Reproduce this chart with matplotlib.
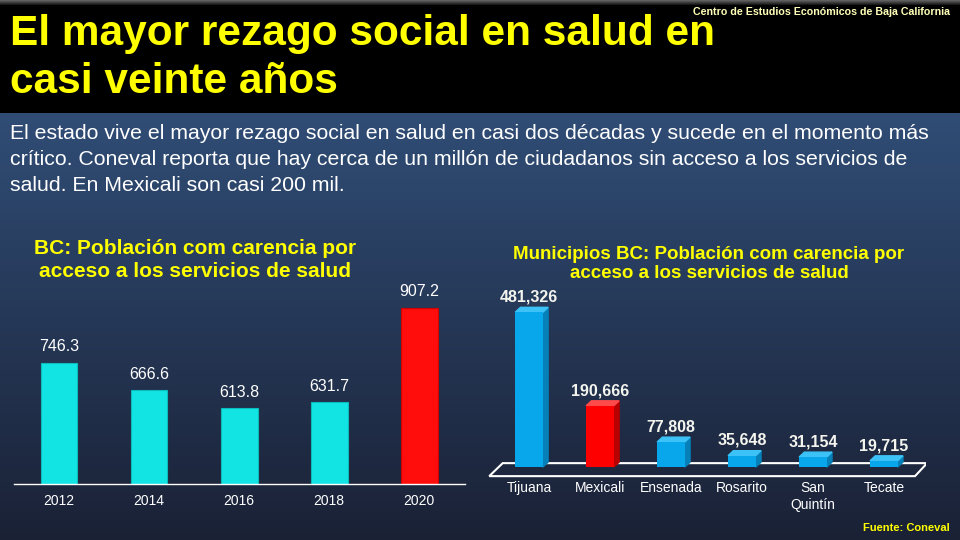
import numpy as np
import matplotlib
matplotlib.use("Agg")
import matplotlib.pyplot as plt
from matplotlib.patches import Polygon

plt.rcParams['font.family'] = ['Liberation Sans', 'DejaVu Sans']

# datos
anios = ["2012", "2014", "2016", "2018", "2020"]
carencia_bc = [746.3, 666.6, 613.8, 631.7, 907.2]   # miles de personas

municipios = ["Tijuana", "Mexicali", "Ensenada", "Rosarito", "San\nQuintín", "Tecate"]
carencia_mun = [481326, 190666, 77808, 35648, 31154, 19715]

titulo = ["El mayor rezago social en salud en", "casi veinte años"]
texto = ["El estado vive el mayor rezago social en salud en casi dos décadas y sucede en el momento más",
         "crítico. Coneval reporta que hay cerca de un millón de ciudadanos sin acceso a los servicios de",
         "salud. En Mexicali son casi 200 mil."]

AMARILLO = "#ffff00"

fig = plt.figure(figsize=(9.6, 5.4), dpi=100)

# fondo: barra negra arriba y degradado azul abajo
bg = fig.add_axes([0, 0, 1, 1])
filas = np.zeros((540, 1, 3))
c_top = np.array([0x30, 0x4d, 0x76]) / 255
c_bot = np.array([0x1a, 0x21, 0x35]) / 255
for y in range(540):
    if y < 5:
        filas[y, 0] = (0.38 - y * 0.07,) * 3
    elif y < 113:
        filas[y, 0] = (0.0, 0.0, 0.0)
    else:
        t = (y - 113) / (540 - 113)
        filas[y, 0] = c_top * (1 - t) + c_bot * t
bg.imshow(filas, extent=[0, 960, 540, 0], aspect='auto')
bg.set_xlim(0, 960)
bg.set_ylim(540, 0)
bg.axis('off')

bg.text(10, 45, titulo[0], color=AMARILLO, fontsize=30.5, fontweight='bold', va='baseline')
bg.text(10, 93, titulo[1], color=AMARILLO, fontsize=30.5, fontweight='bold', va='baseline')
bg.text(950, 15, "Centro de Estudios Económicos de Baja California", color="#ffffb8",
        fontsize=7.7, fontweight='bold', ha='right', va='baseline')
for i, linea in enumerate(texto):
    bg.text(10, 139 + 26 * i, linea, color='white', fontsize=15.3, va='baseline')

bg.text(195, 260, "BC: Población com carencia por\nacceso a los servicios de salud",
        color=AMARILLO, fontsize=15, fontweight='bold', ha='center', va='center', linespacing=1.28)
bg.text(709, 264, "Municipios BC: Población com carencia por\nacceso a los servicios de salud",
        color=AMARILLO, fontsize=13.5, fontweight='bold', ha='center', va='center', linespacing=1.12)
bg.text(950, 531, "Fuente: Coneval", color=AMARILLO, fontsize=8, fontweight='bold',
        ha='right', va='baseline')

# -------------------------------
# grafico izquierdo
ax1 = fig.add_axes([14 / 960, 56 / 540, 451 / 960, 194 / 540])
ax1.patch.set_alpha(0)
colores1 = ["#12e4e4"] * 4 + ["#ff0c0c"]
x1 = np.arange(len(anios))
ax1.bar(x1, carencia_bc, width=0.41, color=colores1, edgecolor=["#0bbcbc"] * 4 + ["#d00000"], linewidth=0.8)
ax1.set_xlim(-0.5, 4.51)
ax1.set_ylim(392, 959)
for xi, v in zip(x1, carencia_bc):
    ax1.annotate(f"{v:.1f}", (xi, v), xytext=(0, 6), textcoords='offset points',
                 ha='center', va='bottom', color='white', fontsize=11.5)
ax1.set_xticks(x1, labels=anios)
ax1.set_yticks([])
ax1.tick_params(axis='x', length=0, colors='white', labelsize=10, pad=7)
for s in ['top', 'left', 'right']:
    ax1.spines[s].set_visible(False)
ax1.spines['bottom'].set_color('white')
ax1.spines['bottom'].set_linewidth(1)

# -------------------------------
# grafico derecho (barras con efecto 3D)
ax2 = fig.add_axes([486.4 / 960, 60 / 540, 440 / 960, 193 / 540])
ax2.patch.set_alpha(0)
ax2.set_xlim(-0.6, 5.6)
ax2.set_ylim(-40000, 560000)
n = len(municipios)
x2 = np.arange(n)
ancho = 0.39
dx = 0.075
dy = 15500

piso = Polygon([(-0.56, -28000), (n - 1 + 0.44, -28000), (n - 1 + 0.61, 12400), (-0.37, 12400)],
               closed=True, fill=False, edgecolor='white', linewidth=1.5, zorder=1)
ax2.add_patch(piso)

frente = ["#08a6ea", "#ff0000"] + ["#08a6ea"] * 4
lado = ["#0580b8", "#b80000"] + ["#0580b8"] * 4
techo = ["#3cc2f6", "#ff4a4a"] + ["#3cc2f6"] * 4
ax2.bar(x2, carencia_mun, width=ancho, color=frente, zorder=3)
for xi, v, cl, ct in zip(x2, carencia_mun, lado, techo):
    x0, x1_ = xi - ancho / 2, xi + ancho / 2
    ax2.add_patch(Polygon([(x1_, 0), (x1_ + dx, dy), (x1_ + dx, v + dy), (x1_, v)],
                          closed=True, color=cl, zorder=2))
    ax2.add_patch(Polygon([(x0, v), (x1_, v), (x1_ + dx, v + dy), (x0 + dx, v + dy)],
                          closed=True, color=ct, zorder=2))
    ax2.annotate(f"{v:,}", (xi, v + dy), xytext=(0, 2), textcoords='offset points',
                 ha='center', va='bottom', color='#f4f4ee', fontsize=11.5, fontweight='bold')
ax2.set_xticks(x2, labels=municipios)
ax2.set_yticks([])
ax2.tick_params(axis='x', length=0, colors='white', labelsize=10, pad=1)
for s in ax2.spines.values():
    s.set_visible(False)

fig.savefig("out.png", dpi=100)
